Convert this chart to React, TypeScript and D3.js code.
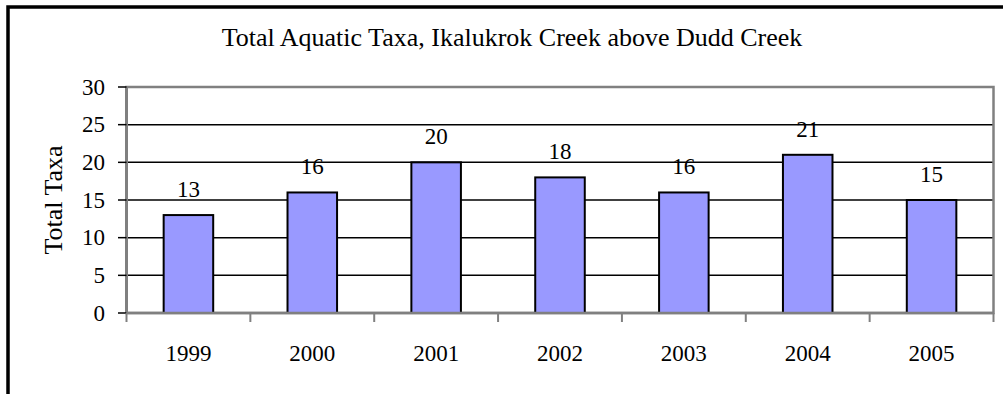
import React from "react";
import * as d3 from "d3";

const years = ["1999", "2000", "2001", "2002", "2003", "2004", "2005"];
const totalTaxa = [13, 16, 20, 18, 16, 21, 15];
const yTicks = [0, 5, 10, 15, 20, 25, 30];
const chartTitle = "Total Aquatic Taxa, Ikalukrok Creek above Dudd Creek";
const yTitle = "Total Taxa";

const W = 1003;
const H = 394;
const plot = { left: 126.5, right: 993.5, top: 87, bottom: 313 };
const FONT = "'Liberation Serif', 'Times New Roman', serif";
const txt: React.CSSProperties = { fontFamily: FONT };

export default function App() {
  const x = d3
    .scaleBand<string>()
    .domain(years)
    .range([plot.left, plot.right])
    .paddingInner(0.6)
    .paddingOuter(0.3);
  const band = d3.scaleBand<string>().domain(years).range([plot.left, plot.right]);
  const y = d3.scaleLinear().domain([0, 30]).range([plot.bottom, plot.top]);

  const boundaries = years.map((yr) => band(yr) as number).concat([plot.right]);

  return (
    <svg
      width={W}
      height={H}
      style={{ position: "absolute", left: 0, top: 0, background: "#fff" }}
    >
      <rect x={0} y={0} width={W} height={H} fill="#fff" />
      {/* outer chart frame, extends past the visible area */}
      <rect x={8} y={7} width={W + 40} height={H + 40} fill="none" stroke="#000" strokeWidth={3.5} />

      <text x={512} y={46} textAnchor="middle" fontSize={26} fill="#000" style={txt}>
        {chartTitle}
      </text>

      {/* horizontal gridlines */}
      {yTicks
        .filter((t) => t > 0 && t < 30)
        .map((t) => (
          <line key={t} x1={plot.left} x2={plot.right} y1={y(t)} y2={y(t)} stroke="#000" strokeWidth={1.5} />
        ))}

      {/* plot area border */}
      <rect
        x={plot.left}
        y={plot.top}
        width={plot.right - plot.left}
        height={plot.bottom - plot.top}
        fill="none"
        stroke="#808080"
        strokeWidth={2.5}
      />

      {/* bars */}
      {years.map((yr, i) => (
        <rect
          key={yr}
          x={x(yr)}
          y={y(totalTaxa[i])}
          width={x.bandwidth()}
          height={y(0) - y(totalTaxa[i])}
          fill="#9999FF"
          stroke="#000"
          strokeWidth={2}
        />
      ))}

      {/* value labels */}
      {years.map((yr, i) => (
        <text
          key={yr}
          x={(x(yr) as number) + x.bandwidth() / 2}
          y={y(totalTaxa[i]) - 18}
          textAnchor="middle"
          fontSize={23}
          fill="#000"
          style={txt}
        >
          {totalTaxa[i]}
        </text>
      ))}

      {/* y axis */}
      <line x1={plot.left} x2={plot.left} y1={plot.top} y2={plot.bottom} stroke="#808080" strokeWidth={3} />
      {yTicks.map((t) => (
        <g key={t}>
          <line x1={118} x2={plot.left} y1={y(t)} y2={y(t)} stroke="#000" strokeWidth={1.5} />
          <text x={105} y={y(t) + 7.5} textAnchor="end" fontSize={23} fill="#000" style={txt}>
            {t}
          </text>
        </g>
      ))}
      <text
        transform={`translate(62,${(plot.top + plot.bottom) / 2}) rotate(-90)`}
        textAnchor="middle"
        fontSize={26}
        fill="#000"
        style={txt}
      >
        {yTitle}
      </text>

      {/* x axis */}
      <line x1={plot.left} x2={plot.right} y1={plot.bottom} y2={plot.bottom} stroke="#808080" strokeWidth={2.5} />
      {boundaries.map((bx, i) => (
        <line key={i} x1={bx} x2={bx} y1={plot.bottom} y2={plot.bottom + 9} stroke="#808080" strokeWidth={2} />
      ))}
      {years.map((yr) => (
        <text
          key={yr}
          x={(band(yr) as number) + band.bandwidth() / 2}
          y={361}
          textAnchor="middle"
          fontSize={23}
          fill="#000"
          style={txt}
        >
          {yr}
        </text>
      ))}
    </svg>
  );
}
